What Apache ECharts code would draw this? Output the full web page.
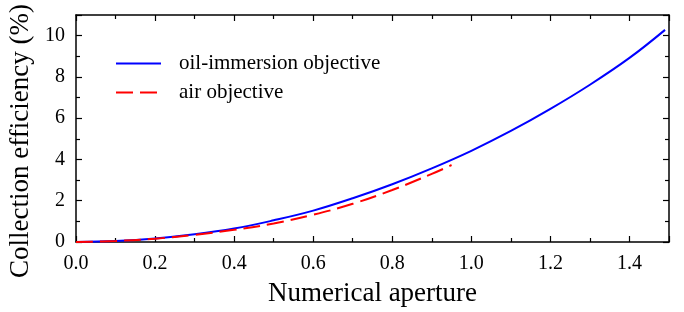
<!DOCTYPE html>
<html><head><meta charset="utf-8">
<script src="https://cdn.jsdelivr.net/npm/echarts@6/dist/echarts.min.js"></script>
<style>html,body{margin:0;padding:0;background:#fff}#c{width:684px;height:312px}</style>
</head><body><div id="c"></div>
<script>
const oilNA  = [0, 0.1, 0.2, 0.3, 0.4, 0.5, 0.6, 0.7, 0.8, 0.9, 1.0, 1.1, 1.2, 1.3, 1.4, 1.49];
const oilEff = [0, 0.05, 0.17, 0.37, 0.65, 1.05, 1.52, 2.12, 2.80, 3.57, 4.42, 5.38, 6.45, 7.62, 8.92, 10.28];
const airNA  = [0, 0.1, 0.2, 0.3, 0.4, 0.5, 0.6, 0.7, 0.8, 0.9, 0.95];
const airEff = [0, 0.05, 0.16, 0.35, 0.59, 0.90, 1.32, 1.85, 2.52, 3.30, 3.73];
const seriesNames = ['oil-immersion objective', 'air objective'];
const xTitle = 'Numerical aperture';
const yTitle = 'Collection efficiency (%)';

const font = 'Liberation Serif, Times New Roman, serif';
const axCommon = {
  axisLine: {show: true, onZero: false, lineStyle: {color: '#000', width: 1.5}},
  axisTick: {show: true, inside: true, length: 6, lineStyle: {color: '#000', width: 1.2}},
  minorTick: {show: true, splitNumber: 2, length: 4, lineStyle: {color: '#000', width: 1.2}},
  splitLine: {show: false}
};
const chart = echarts.init(document.getElementById('c'));
chart.setOption({
  animation: false,
  backgroundColor: '#fff',
  grid: {left: 76, right: 15, top: 15, bottom: 70, containLabel: false, outerBoundsMode: 'none'},
  legend: {
    orient: 'vertical', left: 115, top: 53, padding: 0, itemWidth: 45, itemHeight: 2, itemGap: 8,
    itemStyle: {opacity: 0},
    textStyle: {fontFamily: font, fontSize: 21, color: '#000', padding: [0, 0, 0, 13]},
    data: seriesNames
  },
  xAxis: [
    Object.assign({type: 'value', min: 0, max: 1.5, interval: 0.2, position: 'bottom',
      name: xTitle, nameLocation: 'middle', nameGap: 38,
      nameTextStyle: {fontFamily: font, fontSize: 27, color: '#000'},
      axisLabel: {fontFamily: font, fontSize: 20, color: '#000', margin: 12,
        formatter: v => v.toFixed(1), showMaxLabel: false}}, axCommon),
    Object.assign({type: 'value', min: 0, max: 1.5, interval: 0.2, position: 'top',
      axisLabel: {show: false}}, axCommon)
  ],
  yAxis: [
    Object.assign({type: 'value', min: 0, max: 11, interval: 2, position: 'left',
      name: yTitle, nameLocation: 'middle', nameGap: 32,
      nameTextStyle: {fontFamily: font, fontSize: 27, color: '#000', padding: [0, 25, 0, 0]},
      axisLabel: {fontFamily: font, fontSize: 20, color: '#000', margin: 11, showMaxLabel: false}}, axCommon),
    Object.assign({type: 'value', min: 0, max: 11, interval: 2, position: 'right',
      axisLabel: {show: false}}, axCommon)
  ],
  series: [
    {name: seriesNames[0], type: 'line', smooth: 0.4, symbol: 'none',
     data: oilNA.map((x, i) => [x, oilEff[i]]),
     lineStyle: {color: '#0000ff', width: 2}, itemStyle: {color: '#0000ff'}, z: 3},
    {name: seriesNames[1], type: 'line', smooth: 0.4, symbol: 'none',
     data: airNA.map((x, i) => [x, airEff[i]]),
     lineStyle: {color: '#ff0000', width: 2, type: [17, 7]}, itemStyle: {color: '#ff0000'}, z: 4}
  ]
});
</script></body></html>
